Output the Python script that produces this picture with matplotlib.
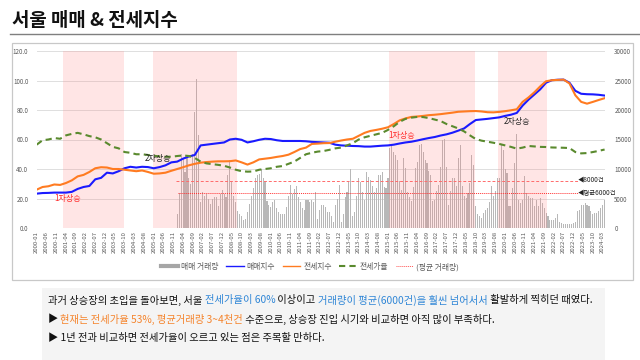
import matplotlib
matplotlib.use("Agg")
import matplotlib.pyplot as plt
from matplotlib.lines import Line2D
from matplotlib.patches import Rectangle

plt.rcParams['font.family'] = ['Noto Sans CJK KR', 'DejaVu Sans']

# ---------------- data ----------------
start_year = 2000
n_months = 292  # 2000-01 .. 2024-04

# quarterly index readings (Jan/Apr/Jul/Oct) + 2024-04
sale_index = [23.3, 23.7, 23.8, 24.0, 24.0, 24.0, 24.5, 26.5, 27.8, 28.5, 33.0, 34.0,
              37.5, 37.0, 38.5, 40.5, 41.5, 41.0, 41.5, 41.3, 40.5, 41.3, 42.5, 44.5,
              45.0, 47.0, 48.5, 49.5, 56.0, 56.5, 57.0, 57.5, 58.0, 60.0, 60.5, 59.8,
              58.0, 58.8, 59.8, 60.5, 60.3, 59.5, 59.0, 59.0, 59.0, 59.0, 58.8, 58.4,
              58.2, 58.0, 57.8, 56.5, 56.0, 55.8, 55.6, 55.5, 55.2, 55.2, 55.5, 55.8,
              56.0, 56.5, 57.3, 58.0, 58.5, 59.3, 60.2, 61.0, 61.7, 62.7, 63.5, 64.6,
              66.0, 67.5, 70.5, 73.2, 73.6, 74.0, 74.5, 75.0, 76.0, 76.8, 78.0, 83.0,
              87.0, 90.5, 94.0, 98.5, 100.2, 100.5, 100.6, 98.5, 93.0, 91.0, 90.7, 90.6,
              90.3, 89.8]
jeonse_index = [26.0, 27.8, 28.3, 29.5, 29.2, 30.5, 32.3, 35.0, 36.0, 38.0, 40.5, 41.2,
                41.0, 40.0, 40.0, 39.5, 39.0, 38.5, 39.0, 38.0, 36.8, 37.0, 37.5, 38.8,
                40.0, 41.2, 42.5, 43.5, 44.3, 44.7, 45.0, 45.2, 45.2, 45.3, 45.8, 44.5,
                43.0, 44.5, 46.5, 47.0, 47.5, 48.2, 48.8, 49.7, 51.5, 53.5, 54.5, 57.0,
                57.2, 57.5, 57.6, 58.5, 59.3, 60.0, 60.5, 62.5, 64.5, 65.8, 66.5, 67.3,
                68.3, 70.5, 73.0, 74.3, 75.3, 75.6, 76.0, 76.5, 76.8, 77.2, 77.7, 78.2,
                78.8, 79.0, 79.2, 79.3, 79.0, 78.5, 78.4, 78.7, 79.2, 79.8, 80.5, 85.5,
                88.5, 92.0, 96.0, 99.5, 100.2, 100.4, 100.6, 98.0, 90.0, 85.5, 84.3, 85.5,
                86.8, 88.0]
jeonse_ratio = [56.5, 59.5, 60.0, 61.0, 60.5, 62.8, 63.8, 64.5, 63.5, 62.3, 61.5, 60.0,
                57.5, 55.0, 54.0, 51.5, 51.0, 50.0, 50.0, 49.5, 49.0, 48.5, 48.3, 48.3,
                48.8, 49.2, 48.8, 47.5, 45.0, 43.8, 43.3, 42.8, 42.2, 41.0, 39.5, 38.5,
                38.2, 38.3, 39.5, 40.0, 40.5, 41.5, 42.0, 43.5, 45.0, 47.5, 50.0, 51.0,
                51.8, 52.2, 53.0, 54.0, 54.5, 56.0, 57.5, 60.0, 61.5, 62.5, 63.5, 64.5,
                66.5, 69.0, 72.0, 74.0, 74.8, 75.3, 75.2, 74.5, 73.5, 72.5, 70.5, 69.0,
                67.5, 65.5, 62.8, 60.3, 59.2, 58.5, 57.8, 57.0, 56.0, 55.0, 53.8, 54.5,
                55.6, 55.3, 55.0, 54.9, 54.6, 54.5, 54.4, 54.2, 51.5, 50.6, 50.8, 51.5,
                52.3, 53.2]

# monthly Seoul apartment sales volume (from 2006-01)
vol_start = "2006-01"
volume = (
    [2300, 6000, 12500, 11800, 9500, 12000, 8500, 7500, 12500, 19700, 25300, 15700] +   # 2006
    [4400, 6100, 5500, 5800, 5000, 4100, 5000, 5300, 5300, 3800, 5800, 6400] +          # 2007
    [5800, 5300, 8900, 11500, 7800, 5500, 4400, 2900, 2400, 2100, 1300, 1600] +         # 2008
    [2700, 4000, 5500, 6700, 8400, 9000, 9200, 10000, 8400, 7800, 4500, 3900] +         # 2009
    [3600, 4400, 4700, 3400, 2700, 2300, 2300, 2300, 3500, 5500, 7300, 5800] +          # 2010
    [6600, 7200, 5200, 4400, 3400, 3000, 4800, 4700, 4400, 4700, 4400, 6100] +          # 2011
    [1600, 3000, 3900, 3900, 3600, 2700, 2700, 2100, 1000, 3900, 4900, 7300] +          # 2012
    [1100, 2400, 5200, 6100, 7800, 10000, 2100, 2700, 5500, 8400, 7800, 6100] +         # 2013
    [4700, 9500, 8700, 8100, 7200, 6100, 6700, 8900, 8900, 9500, 7000, 6700] +          # 2014
    [8500, 13600, 14000, 12900, 12400, 11500, 8000, 6500, 11800, 10100, 6100, 5300] +   # 2015
    [4500, 7000, 10100, 11200, 14000, 14300, 12900, 11500, 11100, 9700, 9000, 4500] +   # 2016
    [4700, 6200, 7300, 10400, 14900, 15100, 10400, 3900, 6200, 8400, 8400, 7200] +      # 2017
    [11900, 14000, 7100, 5400, 5100, 5900, 7600, 12400, 10700, 3800, 2400, 2100] +      # 2018
    [1700, 2500, 3100, 3400, 4400, 7100, 5400, 6200, 8500, 8500, 14100, 13300] +        # 2019
    [10000, 9300, 3700, 3700, 6800, 11000, 16000, 4800, 4200, 4800, 8800, 5900] +       # 2020
    [5400, 5100, 5100, 3700, 4800, 3700, 5100, 4200, 3400, 2500, 2000, 1400] +          # 2021
    [1400, 1400, 1700, 2400, 1100, 850, 650, 650, 600, 600, 750, 850] +                 # 2022
    [1100, 2800, 3100, 3900, 3900, 4200, 3900, 3800, 2800, 2400, 2500, 2500] +          # 2023
    [2800, 3400, 3900, 4800]                                                            # 2024
)

avg_volume = 6000
ref_volume = 8000
ref_line_span = ("2005-12", "2023-02")

# rising-market periods (shaded)
rise_periods = [("2001-03", "2003-09"), ("2005-01", "2008-07"),
                ("2015-02", "2018-09"), ("2019-10", "2021-10")]

annotations = [("1차상승", "2001-05", 20.0, '#ff2b2b'),
               ("2차상승", "2005-03", 46.8, '#262626'),
               ("1차상승", "2015-08", 63.0, '#ff2b2b'),
               ("2차상승", "2020-07", 72.0, '#262626')]

# ---------------- helpers ----------------
def mi(label):
    y, m = label.split("-")
    return (int(y) - start_year) * 12 + int(m) - 1

def lab(m):
    return f"{start_year + m // 12}-{m % 12 + 1:02d}"

q_x = list(range(0, n_months - 1, 3)) + [n_months - 1]
v0 = mi(vol_start)
vol_x = list(range(v0, v0 + len(volume)))

# ---------------- figure ----------------
fig = plt.figure(figsize=(6.4, 3.6), dpi=100)
W, H = 640, 360

# outer chart box
fig.patches.append(Rectangle((11.7 / W, 1 - 280 / H), (632.7 - 11.7) / W, (280 - 43.3) / H,
                             transform=fig.transFigure, facecolor='white',
                             edgecolor='#c8c8c8', lw=0.9, zorder=-5))
# title and rule
fig.text(12 / W, 1 - 20 / H, "서울 매매 & 전세지수", fontsize=13.6, fontweight='bold',
         color='#111111', ha='left', va='center')
fig.add_artist(Line2D([10 / W, 640 / W], [1 - 34.3 / H, 1 - 34.3 / H],
                      transform=fig.transFigure, color='#7f7f7f', lw=1.0))

ax = fig.add_axes([36.7 / W, 1 - 228 / H, (604.6 - 36.7) / W, (228 - 51) / H])
ax.set_xlim(0, n_months - 1)
ax.set_ylim(0, 120)
ax2 = ax.twinx()
ax2.set_ylim(0, 30000)
ax.set_zorder(ax2.get_zorder() + 1)
ax.patch.set_visible(False)
ax2.patch.set_visible(False)

for a in (ax, ax2):
    for s in a.spines.values():
        s.set_visible(False)
    a.tick_params(length=0)

ax.set_yticks(range(0, 121, 20))
ax.set_yticklabels([f"{v:.1f}" for v in range(0, 121, 20)], fontsize=4.5, color='#595959')
ax.tick_params(axis='y', pad=6)
ax2.set_yticks(range(0, 30001, 5000))
ax2.set_yticklabels([str(v) for v in range(0, 30001, 5000)], fontsize=4.5, color='#595959')
ax2.tick_params(axis='y', pad=7)
ax2.grid(axis='y', color='#dedede', lw=0.7)
ax2.set_axisbelow(True)

xt = list(range(0, n_months, 5))
ax.set_xticks(xt)
ax.set_xticklabels([lab(m) for m in xt], rotation=90, fontsize=4.3, color='#595959')
ax.tick_params(axis='x', pad=2)

# bars on secondary axis
ax2.bar(vol_x, volume, width=0.55, color='#b8b8b8', zorder=2)
for s, e in rise_periods:
    ax2.axvspan(mi(s) - 0.5, mi(e) + 0.5, color='#ff8080', alpha=0.2, lw=0, zorder=3)

# average/reference lines
xs = [mi(ref_line_span[0]) + 0.3, mi(ref_line_span[1]) + 0.3]
ax2.plot(xs, [ref_volume, ref_volume], color='#ff6b6b', lw=0.7, ls=(0, (3, 2)), zorder=4)
ax2.plot([xs[0] + 1, xs[1]], [avg_volume, avg_volume], color='#ff3030', lw=0.7,
         ls=(0, (1, 1)), zorder=4)
ax2.text(xs[1], ref_volume, "◀8000건", fontsize=4.6, color='#222222', ha='left', va='center')
ax2.text(xs[1], avg_volume, "◀평균6000건", fontsize=4.6, color='#222222', ha='left', va='center')

# lines
ax.plot(q_x, sale_index, color='#1a1aff', lw=1.5, zorder=5)
ax.plot(q_x, jeonse_index, color='#ff7b21', lw=1.5, zorder=5)
gl, = ax.plot(q_x, jeonse_ratio, color='#5a8a2e', lw=1.5, zorder=5)
gl.set_dashes([3, 2])

for t, d, v, c in annotations:
    ax.text(mi(d), v, t, fontsize=5.8, color=c, ha='center', va='center', zorder=6)

# legend
handles = [Line2D([], [], color='#a6a6a6', lw=3),
           Line2D([], [], color='#1a1aff', lw=1.0),
           Line2D([], [], color='#ff7b21', lw=1.0),
           Line2D([], [], color='#5a8a2e', lw=1.5, dashes=[3, 2]),
           Line2D([], [], color='#ff5050', lw=0.7, ls=(0, (1, 1)))]
labels = ["매매 거래량", "매매지수", "전세지수", "전세가율", "(평균 거래량)"]
fig.legend(handles, labels, loc='center', bbox_to_anchor=(310 / W, 1 - 267 / H), ncol=5,
           frameon=False, fontsize=5.6, handlelength=2.2, columnspacing=1.0,
           handletextpad=0.4, labelcolor='#595959')

# bottom text box
fig.patches.append(Rectangle((42 / W, 0), (605 - 42) / W, (360 - 288) / H,
                             transform=fig.transFigure, facecolor='#f4f4f4',
                             edgecolor='none', zorder=-5))
blue_t = '#2f86d6'
orange_t = '#f5842c'
lines = [
    [("과거 상승장의 초입을 돌아보면, 서울 ", '#111111'), ("전세가율이 60%", blue_t),
     (" 이상이고 ", '#111111'), ("거래량이 평균(6000건)을 훨씬 넘어서서", blue_t),
     (" 활발하게 찍히던 때였다.", '#111111')],
    [("▶ ", '#111111'), ("현재는 전세가율 53%, 평균거래량 3~4천건", orange_t),
     (" 수준으로, 상승장 진입 시기와 비교하면 아직 많이 부족하다.", '#111111')],
    [("▶ 1년 전과 비교하면 전세가율이 오르고 있는 점은 주목할 만하다.", '#111111')],
]
ys = [300, 319.5, 338]
renderer = fig.canvas.get_renderer()
for segs, yy in zip(lines, ys):
    x = 48
    for s, c in segs:
        t = fig.text(x / W, 1 - yy / H, s, fontsize=7.4, color=c, ha='left', va='center')
        bb = t.get_window_extent(renderer=renderer)
        x += bb.width

fig.savefig("out.png", dpi=100)
